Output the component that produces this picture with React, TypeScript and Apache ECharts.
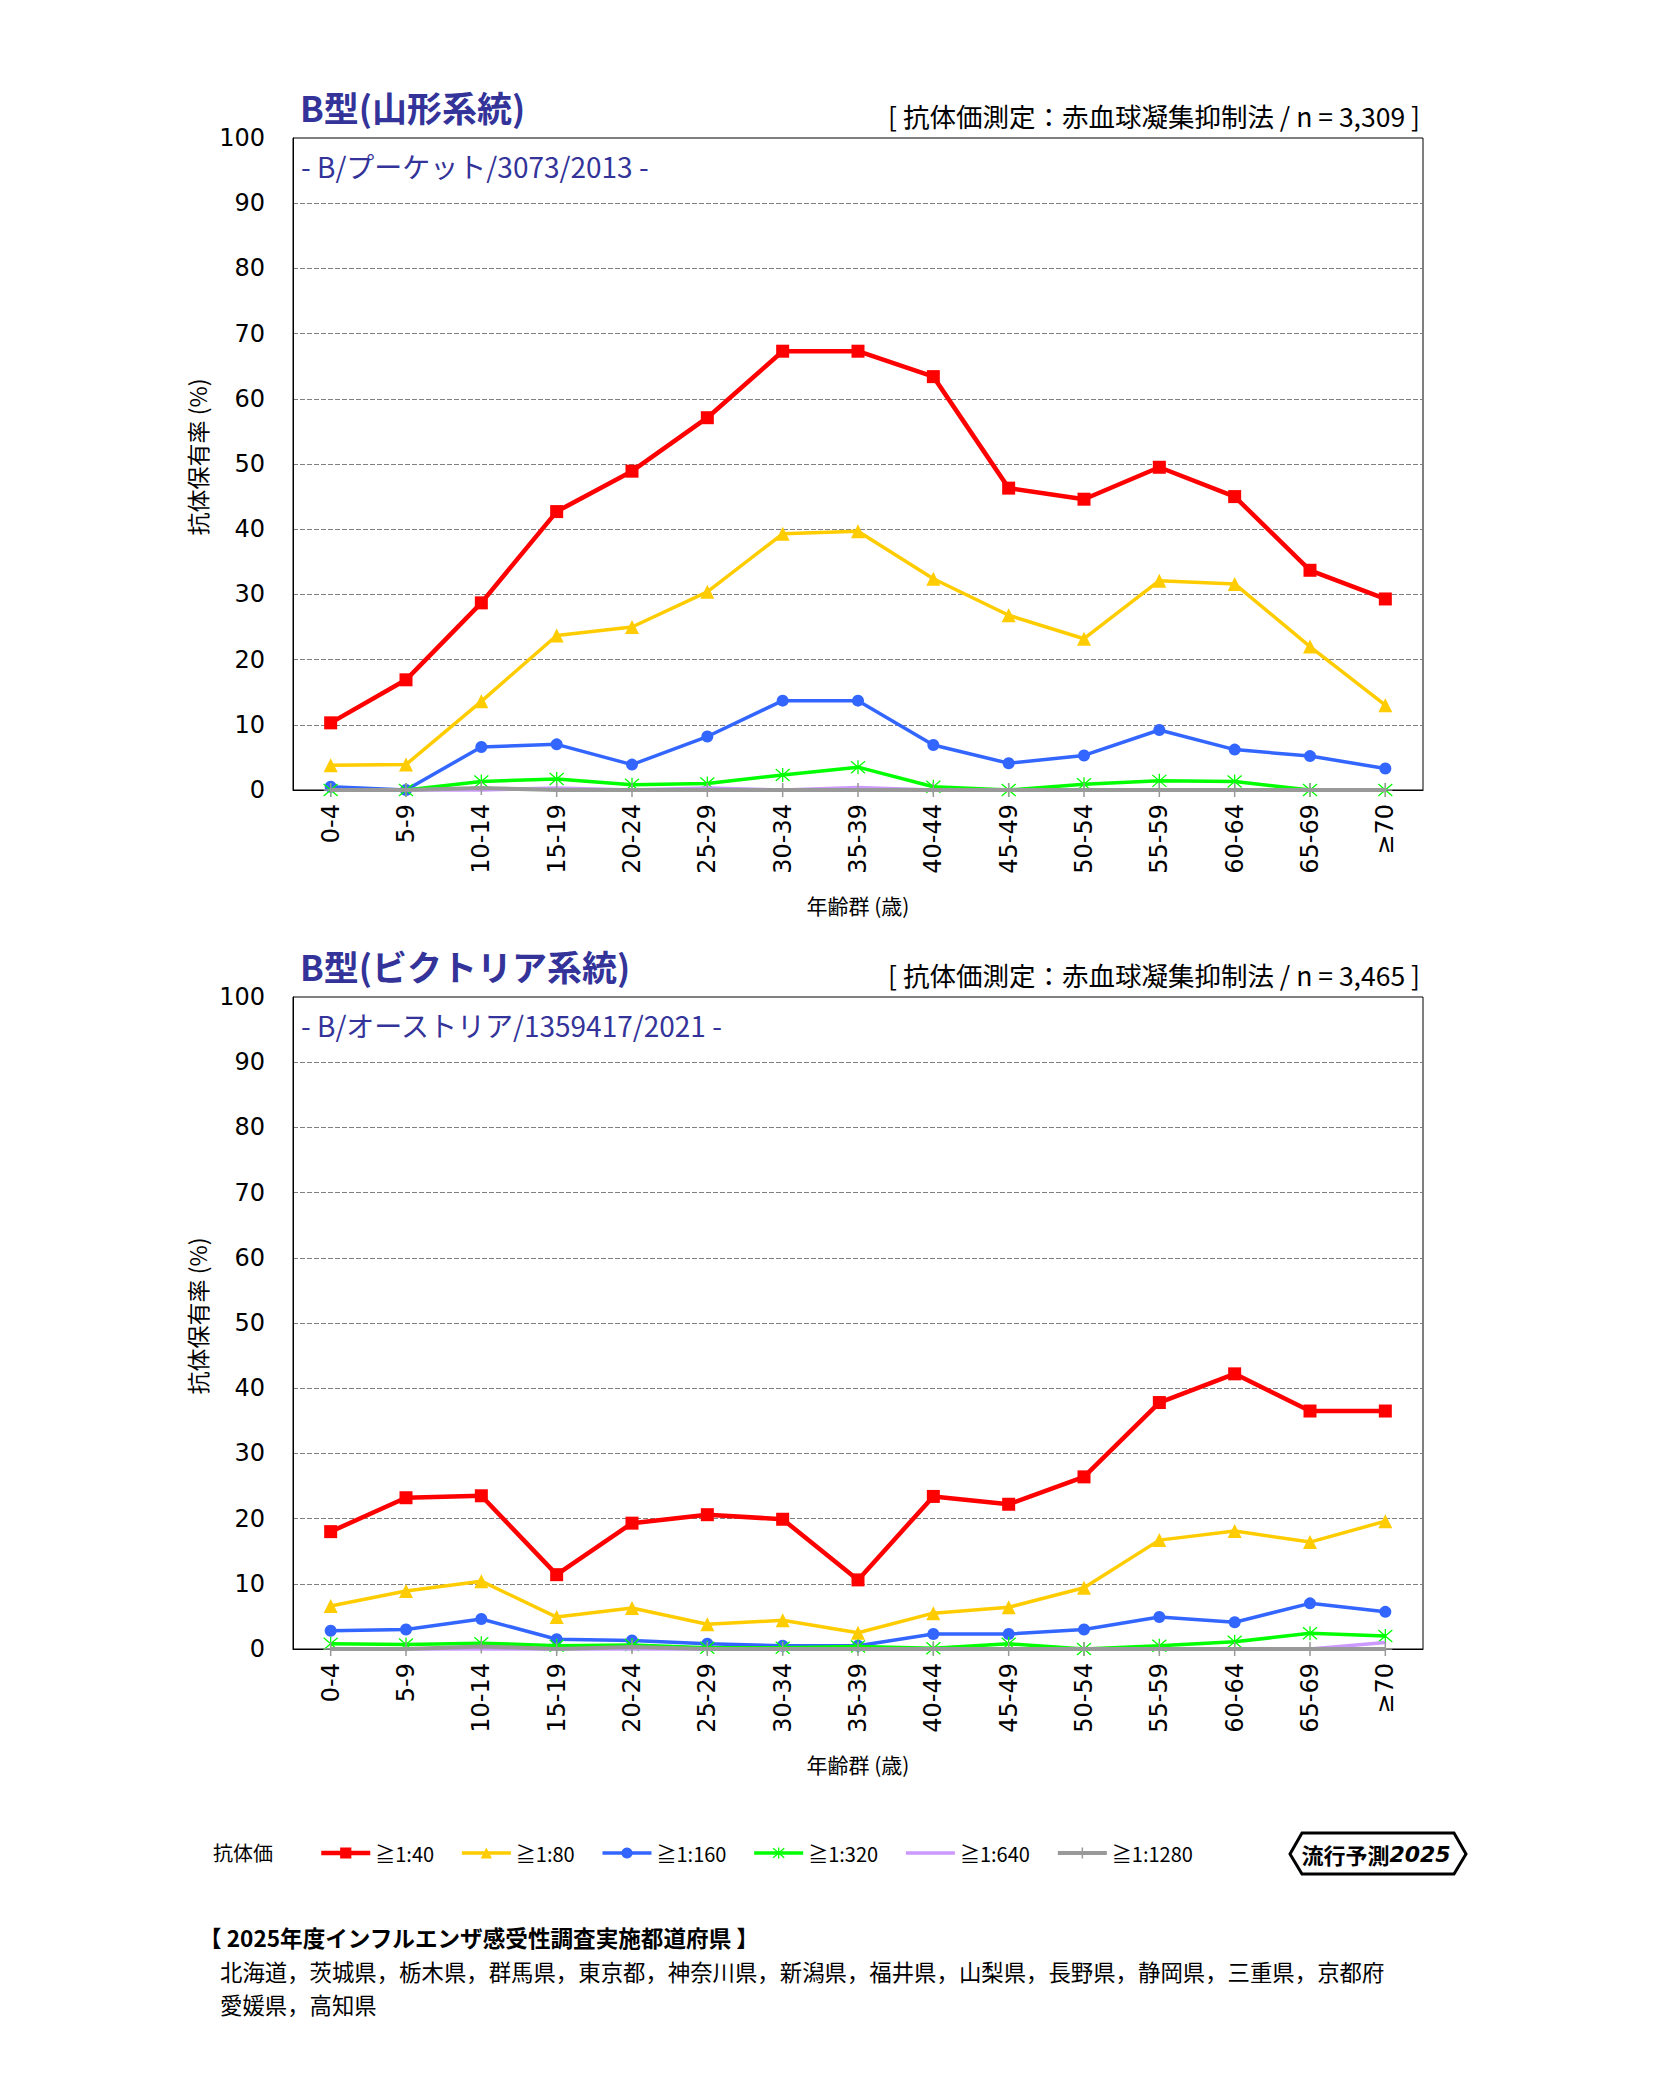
import React, { useEffect, useRef } from 'react';
import * as echarts from 'echarts';

const ageGroups = ['0-4', '5-9', '10-14', '15-19', '20-24', '25-29', '30-34', '35-39', '40-44', '45-49', '50-54', '55-59', '60-64', '65-69', '≥70'];
const titerNames = ['≧1:40', '≧1:80', '≧1:160', '≧1:320', '≧1:640', '≧1:1280'];
const yTicks = [0, 100, 10]; // min, max, interval

// B型(山形系統)
const yamagata40 = [10.3, 16.9, 28.7, 42.7, 48.9, 57.1, 67.3, 67.3, 63.4, 46.3, 44.6, 49.5, 45.0, 33.7, 29.3];
const yamagata80 = [3.8, 3.9, 13.6, 23.7, 25.0, 30.4, 39.3, 39.7, 32.4, 26.8, 23.2, 32.1, 31.6, 22.0, 13.0];
const yamagata160 = [0.5, 0, 6.6, 7.0, 3.9, 8.2, 13.7, 13.7, 6.9, 4.1, 5.3, 9.2, 6.2, 5.2, 3.3];
const yamagata320 = [0, 0, 1.3, 1.7, 0.8, 1.0, 2.3, 3.5, 0.5, 0, 0.9, 1.4, 1.3, 0, 0];
const yamagata640 = [0, 0, 0, 0.3, 0, 0.3, 0, 0.4, 0, 0, 0, 0, 0, 0, 0];
const yamagata1280 = [0, 0, 0.3, 0, 0, 0, 0, 0, 0, 0, 0, 0, 0, 0, 0];

// B型(ビクトリア系統)
const victoria40 = [18.0, 23.2, 23.5, 11.4, 19.3, 20.6, 19.9, 10.6, 23.4, 22.2, 26.4, 37.8, 42.2, 36.5, 36.5];
const victoria80 = [6.6, 8.9, 10.4, 4.9, 6.3, 3.8, 4.4, 2.5, 5.5, 6.4, 9.4, 16.7, 18.1, 16.4, 19.6];
const victoria160 = [2.8, 3.0, 4.6, 1.5, 1.3, 0.8, 0.5, 0.5, 2.3, 2.3, 3.0, 4.9, 4.1, 7.0, 5.7];
const victoria320 = [0.8, 0.7, 0.9, 0.5, 0.6, 0.2, 0.2, 0.4, 0.1, 0.8, 0, 0.5, 1.1, 2.4, 2.0];
const victoria640 = [0, 0, 0, 0, 0, 0, 0, 0, 0, 0, 0, 0, 0, 0, 1.0];
const victoria1280 = [0, 0, 0.4, 0, 0.3, 0, 0, 0, 0, 0, 0, 0, 0, 0, 0];

const yamagataSeries = [yamagata40, yamagata80, yamagata160, yamagata320, yamagata640, yamagata1280];
const victoriaSeries = [victoria40, victoria80, victoria160, victoria320, victoria640, victoria1280];

const prefectures1 = ['北海道', '茨城県', '栃木県', '群馬県', '東京都', '神奈川県', '新潟県', '福井県', '山梨県', '長野県', '静岡県', '三重県', '京都府'];
const prefectures2 = ['愛媛県', '高知県'];

const JP = '"Noto Sans CJK JP", "Noto Sans", sans-serif';
const NUM = '"DejaVu Sans", Verdana, sans-serif';
const TITLE_COLOR = '#333399';

const seriesStyles = [
  { color: '#FF0000', width: 4.5, symbol: 'rect', size: 13, stroke: 0, show: true },
  { color: '#FFCC00', width: 3.5, symbol: 'triangle', size: 14, stroke: 0, show: true },
  { color: '#3366FF', width: 3.5, symbol: 'circle', size: 12, stroke: 0, show: true },
  { color: '#00FF00', width: 3.5, symbol: 'path://M7 0L7 14M1 1L13 13M1 13L13 1', size: 14, stroke: 1.3, show: true },
  { color: '#CC99FF', width: 3.5, symbol: 'path://M0 0L14 14', size: 1, stroke: 0, show: false },
  { color: '#999999', width: 4, symbol: 'path://M7 0L7 14M0 7L14 7', size: 14, stroke: 1.5, show: true },
];

function buildSeries(sets: number[][], axisIndex: number) {
  return sets.map((data, i) => {
    const st = seriesStyles[i];
    return {
      type: 'line',
      name: titerNames[i],
      xAxisIndex: axisIndex,
      yAxisIndex: axisIndex,
      data,
      clip: false,
      symbol: st.symbol,
      showSymbol: st.show,
      symbolSize: st.size,
      lineStyle: { color: st.color, width: st.width },
      itemStyle: { color: st.color, borderColor: st.color, borderWidth: st.stroke },
      emphasis: { disabled: true },
      z: 2 + i,
    };
  });
}

const GRID_LEFT = 293;
const GRID_WIDTH = 1130;
const GRID_HEIGHT = 652;
const GRID_TOPS = [138, 997];

function buildAxes() {
  const xAxis = GRID_TOPS.map((_, i) => ({
    type: 'category',
    gridIndex: i,
    data: ageGroups,
    boundaryGap: true,
    axisLine: { show: true, lineStyle: { color: '#000', width: 1 } },
    axisTick: { show: false },
    axisLabel: { rotate: 90, margin: 14, fontFamily: NUM, fontSize: 24, color: '#000', interval: 0 },
    splitLine: { show: false },
    name: '年齢群 (歳)',
    nameLocation: 'middle',
    nameGap: 104,
    nameTextStyle: { fontFamily: JP, fontSize: 21, color: '#000' },
  }));
  const yAxis = GRID_TOPS.map((_, i) => ({
    type: 'value',
    gridIndex: i,
    min: yTicks[0],
    max: yTicks[1],
    interval: yTicks[2],
    axisLine: { show: true, lineStyle: { color: '#000', width: 1 } },
    axisTick: { show: false },
    axisLabel: { fontFamily: NUM, fontSize: 24, color: '#000', margin: 28 },
    splitLine: {
      show: true,
      showMinLine: false,
      showMaxLine: false,
      lineStyle: { color: '#808080', width: 1, type: [5, 2] },
    },
    name: '抗体保有率 (%)',
    nameLocation: 'middle',
    nameRotate: 90,
    nameGap: 76,
    nameTextStyle: { fontFamily: JP, fontSize: 23, color: '#000', padding: [0, 0, 0, 14] },
  }));
  return { xAxis, yAxis };
}

function headerTexts(top: number, title: string, measure: string, strain: string) {
  // top = grid top
  return [
    {
      type: 'text',
      x: 300,
      y: top - 32,
      style: { text: title, fontFamily: JP, fontWeight: 'bold', fontSize: 35, fill: TITLE_COLOR, align: 'left', verticalAlign: 'middle' },
    },
    {
      type: 'text',
      x: 1420,
      y: top - 23,
      style: { text: measure, fontFamily: JP, fontSize: 26.5, fill: '#000', align: 'right', verticalAlign: 'middle' },
    },
    {
      type: 'text',
      x: 301,
      y: top + 28,
      style: { text: strain, fontFamily: JP, fontSize: 28, fill: TITLE_COLOR, align: 'left', verticalAlign: 'middle' },
    },
  ];
}

function buildOption() {
  const { xAxis, yAxis } = buildAxes();
  const graphic: any[] = [
    ...headerTexts(GRID_TOPS[0], 'B型(山形系統)', '[ 抗体価測定：赤血球凝集抑制法 / n = 3,309 ]', '- B/プーケット/3073/2013 -'),
    ...headerTexts(GRID_TOPS[1], 'B型(ビクトリア系統)', '[ 抗体価測定：赤血球凝集抑制法 / n = 3,465 ]', '- B/オーストリア/1359417/2021 -'),
    {
      type: 'text',
      x: 213,
      y: 1852,
      style: { text: '抗体価', fontFamily: JP, fontSize: 20, fill: '#000', align: 'left', verticalAlign: 'middle' },
    },
    {
      type: 'polygon',
      shape: { points: [[1290, 1854], [1302, 1833], [1454, 1833], [1466, 1854], [1454, 1874], [1302, 1874]] },
      style: { fill: '#fff', stroke: '#000', lineWidth: 3 },
    },
    {
      type: 'text',
      x: 1376,
      y: 1854,
      style: {
        text: '{a|流行予測}{b|2025}',
        align: 'center',
        verticalAlign: 'middle',
        rich: {
          a: { fontFamily: JP, fontWeight: 'bold', fontSize: 22, fill: '#000' },
          b: { fontFamily: NUM, fontWeight: 'bold', fontStyle: 'italic', fontSize: 22, fill: '#000' },
        },
      },
    },
    {
      type: 'text',
      x: 199,
      y: 1937,
      style: { text: '【 2025年度インフルエンザ感受性調査実施都道府県 】', fontFamily: JP, fontWeight: 'bold', fontSize: 22.6, fill: '#000', align: 'left', verticalAlign: 'middle' },
    },
    {
      type: 'text',
      x: 220,
      y: 1971,
      style: { text: prefectures1.join('，'), fontFamily: JP, fontSize: 22.4, fill: '#000', align: 'left', verticalAlign: 'middle' },
    },
    {
      type: 'text',
      x: 220,
      y: 2004,
      style: { text: prefectures2.join('，'), fontFamily: JP, fontSize: 22.4, fill: '#000', align: 'left', verticalAlign: 'middle' },
    },
  ];

  return {
    animation: false,
    backgroundColor: '#fff',
    grid: GRID_TOPS.map((top) => ({
      left: GRID_LEFT,
      top,
      width: GRID_WIDTH,
      height: GRID_HEIGHT,
      show: true,
      borderColor: '#000',
      borderWidth: 1,
      backgroundColor: 'transparent',
    })),
    xAxis,
    yAxis,
    legend: {
      left: 319,
      top: 1843,
      padding: 0,
      itemWidth: 49,
      itemHeight: 14,
      itemGap: 26,
      selectedMode: false,
      data: titerNames,
      lineStyle: { width: 'inherit' },
      itemStyle: { borderWidth: 'inherit' },
      textStyle: { fontFamily: JP, fontSize: 20, color: '#000' },
    },
    graphic,
    series: [...buildSeries(yamagataSeries, 0), ...buildSeries(victoriaSeries, 1)],
  };
}

export default function App() {
  const ref = useRef<HTMLDivElement>(null);
  useEffect(() => {
    if (!ref.current) return;
    const chart = echarts.init(ref.current, null, { renderer: 'svg' });
    chart.setOption(buildOption() as any);
    return () => chart.dispose();
  }, []);
  return (
    <div
      ref={ref}
      style={{ position: 'absolute', left: 0, top: 0, width: 1654, height: 2089, background: '#fff' }}
    />
  );
}
